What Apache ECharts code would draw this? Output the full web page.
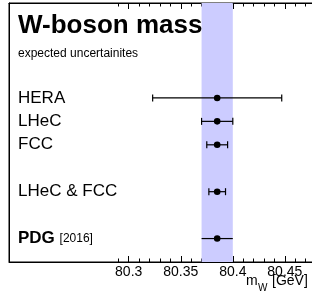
<!DOCTYPE html>
<html>
<head>
<meta charset="utf-8">
<script src="https://cdn.jsdelivr.net/npm/echarts@6/dist/echarts.min.js"></script>
<style>
  html, body { margin: 0; padding: 0; background: #fff; }
  #main { width: 312px; height: 299px; }
</style>
</head>
<body>
<div id="main"></div>
<script>
// measurements, one row per entry
const labels = ['HERA', 'LHeC', 'FCC', 'LHeC & FCC', 'PDG'];
const rows = [4, 5, 6, 8, 10];
const centers = [80.385, 80.385, 80.385, 80.385, 80.385];
const errors = [0.062, 0.015, 0.010, 0.008, 0.015];
const caps = [1, 1, 1, 1, 0];
const pdgBand = [80.370, 80.400];
const majorTicks = [80.3, 80.35, 80.4, 80.45];
const minorTicks = [80.29, 80.31, 80.32, 80.33, 80.34, 80.36, 80.37, 80.38, 80.39,
                    80.41, 80.42, 80.43, 80.44, 80.46, 80.47];

const FONT = '"Liberation Sans", Arial, Helvetica, sans-serif';

let points = [];
for (let i = 0; i < rows.length; i++) {
    points.push([rows[i], centers[i], errors[i], caps[i]]);
}

function renderErr(params, api) {
    const y = api.value(0);
    const c = api.value(1);
    const e = api.value(2);
    const p0 = api.coord([c - e, y]);
    const p1 = api.coord([c + e, y]);
    const pc = api.coord([c, y]);
    const st = { stroke: '#000', lineWidth: 1.2 };
    let children = [{
        type: 'line',
        shape: { x1: p0[0], y1: p0[1], x2: p1[0], y2: p1[1] },
        style: st
    }];
    if (api.value(3)) {
        children.push({ type: 'line', shape: { x1: p0[0], y1: p0[1] - 3.5, x2: p0[0], y2: p0[1] + 3.5 }, style: st });
        children.push({ type: 'line', shape: { x1: p1[0], y1: p1[1] - 3.5, x2: p1[0], y2: p1[1] + 3.5 }, style: st });
    }
    children.push({ type: 'circle', shape: { cx: pc[0], cy: pc[1], r: 3.3 }, style: { fill: '#000' } });
    return { type: 'group', children: children };
}

function tickAxis(pos, values, len, withLine, withLabels) {
    return {
        type: 'value',
        position: pos,
        min: 80.185,
        max: 80.478,
        axisLine: { show: withLine, onZero: false, lineStyle: { color: '#000', width: 1 } },
        axisTick: { show: true, inside: true, length: len, customValues: values,
                    lineStyle: { color: '#000', width: 1 } },
        axisLabel: withLabels ? {
            show: true, customValues: values, margin: 3,
            color: '#000', fontSize: 14, fontFamily: FONT
        } : { show: false },
        splitLine: { show: false }
    };
}

let mainchart = echarts.init(document.getElementById('main'));
let chart_config = {
    animation: false,
    title: {
        text: 'W-boson mass',
        subtext: 'expected uncertainites',
        left: 13,
        top: 8,
        itemGap: 9,
        textStyle: { fontSize: 26, fontWeight: 'bold', color: '#000', fontFamily: FONT },
        subtextStyle: { fontSize: 12, color: '#000', fontFamily: FONT }
    },
    // axis title drawn as plain text under the last tick labels
    graphic: [
        { type: 'text', left: 246, top: 274, style: { text: 'm', fontSize: 14, fontFamily: FONT, fill: '#000' } },
        { type: 'text', left: 258, top: 283, style: { text: 'W', fontSize: 10, fontFamily: FONT, fill: '#000' } },
        { type: 'text', left: 272, top: 274, style: { text: '[GeV]', fontSize: 14, fontFamily: FONT, fill: '#000' } }
    ],
    grid: {
        left: 9, right: -2, top: 3, bottom: 37, outerBoundsMode: 'none', containLabel: false,
        show: true, borderColor: '#000', borderWidth: 1, backgroundColor: 'transparent'
    },
    xAxis: [
        tickAxis('bottom', majorTicks, 6, true, true),
        tickAxis('bottom', minorTicks, 3.5, false, false),
        tickAxis('top', majorTicks, 6, true, false),
        tickAxis('top', minorTicks, 3.5, false, false)
    ],
    yAxis: {
        type: 'value',
        min: -0.05,
        max: 11,
        inverse: true,
        axisLine: { show: true, onZero: false, lineStyle: { color: '#000', width: 1 } },
        axisTick: { show: false },
        splitLine: { show: false },
        axisLabel: {
            show: true, inside: true, margin: 9, customValues: rows,
            color: '#000', fontSize: 17, fontFamily: FONT,
            formatter: function (v) {
                const name = labels[rows.indexOf(v)];
                if (name === 'PDG') return '{b|PDG} {s|[2016]}';
                return name;
            },
            rich: {
                b: { fontSize: 17, fontWeight: 'bold', color: '#000', fontFamily: FONT },
                s: { fontSize: 12, color: '#000', fontFamily: FONT }
            }
        }
    },
    series: [{
        type: 'line',
        data: [],
        z: -1,
        markArea: {
            silent: true,
            itemStyle: { color: '#ccccff', opacity: 1 },
            data: [[{ xAxis: pdgBand[0], yAxis: -0.05 }, { xAxis: pdgBand[1], yAxis: 11 }]]
        }
    }, {
        type: 'custom',
        renderItem: renderErr,
        encode: { x: 1, y: 0 },
        data: points,
        z: 3
    }]
};
mainchart.setOption(chart_config);
</script>
</body>
</html>
